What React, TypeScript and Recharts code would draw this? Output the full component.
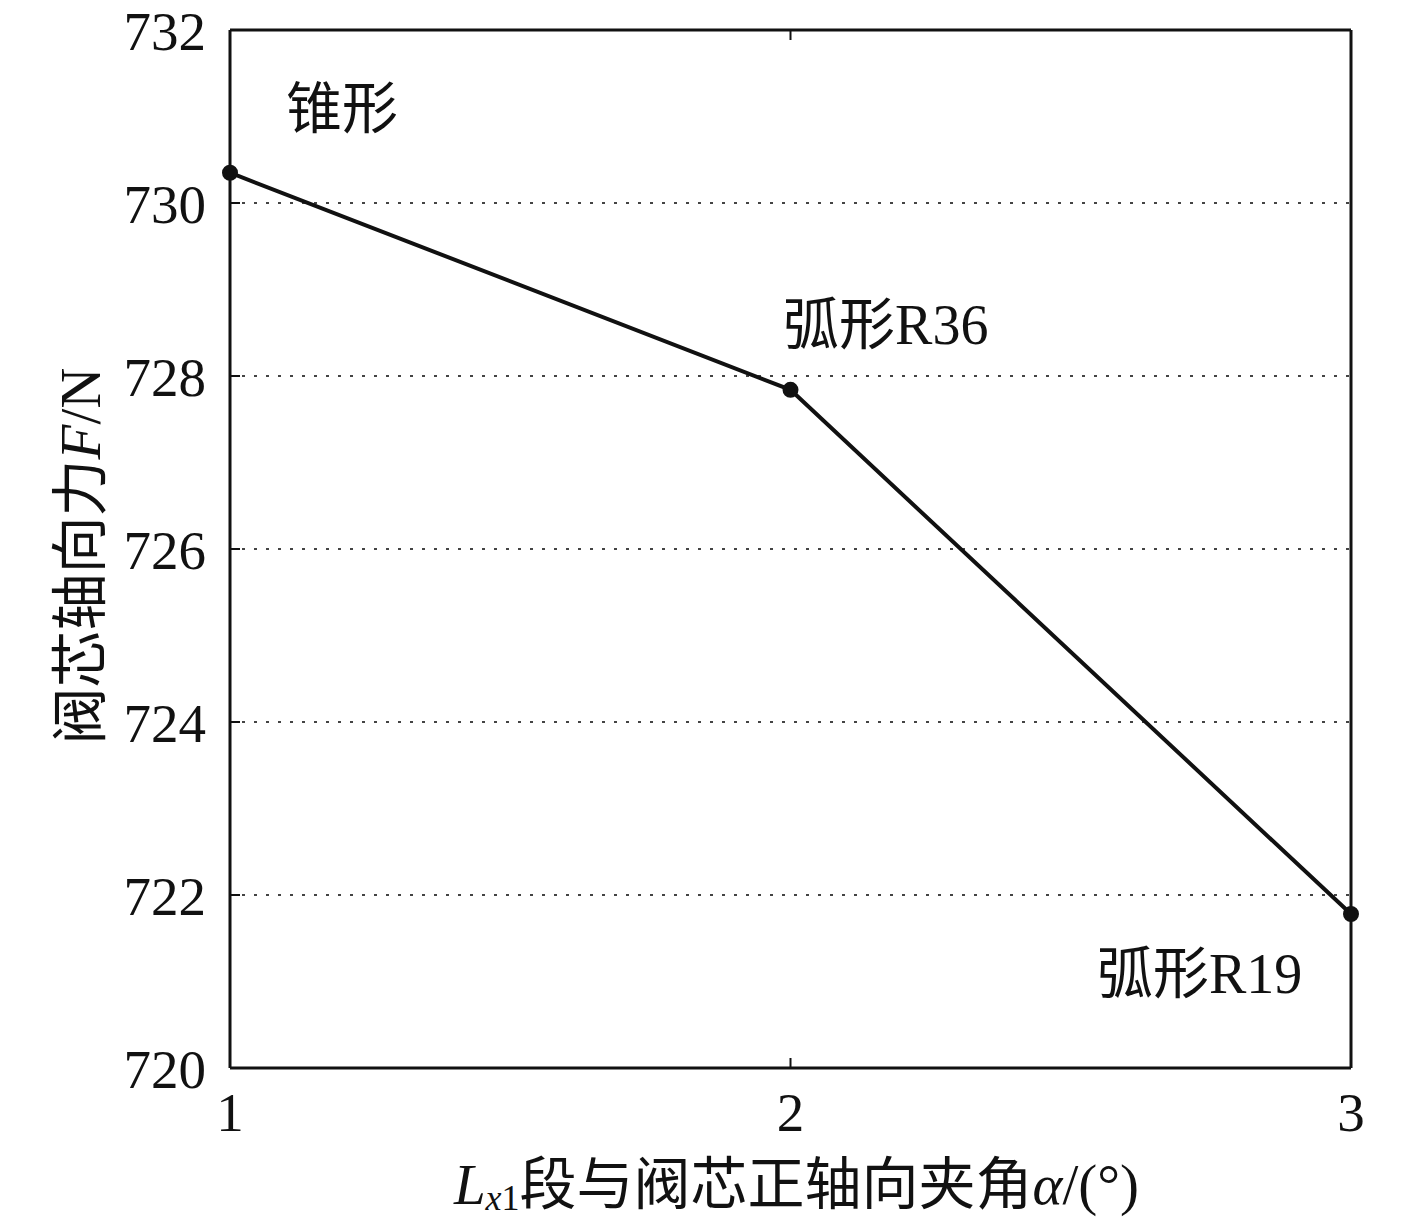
import React from "react";
import {
  CartesianGrid,
  Line,
  LineChart,
  ReferenceDot,
  XAxis,
  YAxis,
} from "recharts";

const angles = [1, 2, 3];
const forces = [730.35, 727.84, 721.78];
const xTicks = [1, 2, 3];
const yTicks = [720, 722, 724, 726, 728, 730, 732];
const noteX = [1.2, 2.17, 2.73];
const noteY = [731.1, 728.6, 721.1];
const noteText = ["锥形", "弧形R36", "弧形R19"];

const data = angles.map((a, i) => ({ angle: a, force: forces[i] }));

const FONT = "'Liberation Serif', 'Times New Roman', 'Noto Sans CJK SC', serif";
const INK = "#111";
const GAP = 24;
const TICK = 10;

function LeftTick({ x, y, payload }: any) {
  const ax = x + GAP;
  return (
    <g>
      <text x={x} y={y} dy="0.355em" textAnchor="end" fill={INK} fontSize={55} fontFamily={FONT}>
        {payload.value}
      </text>
      <line x1={ax} x2={ax + TICK} y1={y} y2={y} stroke={INK} strokeWidth={2} />
    </g>
  );
}

function BottomTick({ x, y, payload }: any) {
  const ay = y - GAP;
  return (
    <g>
      <text x={x} y={y} dy="0.71em" textAnchor="middle" fill={INK} fontSize={55} fontFamily={FONT}>
        {payload.value}
      </text>
      <line x1={x} x2={x} y1={ay} y2={ay - TICK} stroke={INK} strokeWidth={2} />
    </g>
  );
}

function RightTick({ x, y }: any) {
  return <line x1={x} x2={x - TICK} y1={y} y2={y} stroke={INK} strokeWidth={2} />;
}

function TopTick({ x, y }: any) {
  return <line x1={x} x2={x} y1={y} y2={y + TICK} stroke={INK} strokeWidth={2} />;
}

function XTitle({ viewBox }: any) {
  const cx = viewBox.x + viewBox.width / 2 + 6;
  const y = viewBox.y + 136;
  return (
    <text x={cx} y={y} textAnchor="middle" fontFamily={FONT} fontSize={57} fill={INK}>
      <tspan fontStyle="italic">L</tspan>
      <tspan fontStyle="italic" fontSize={36} dy={6}>x</tspan>
      <tspan fontSize={36}>1</tspan>
      <tspan dy={-6}>段与阀芯正轴向夹角</tspan>
      <tspan fontStyle="italic">α</tspan>
      <tspan>/(°)</tspan>
    </text>
  );
}

function YTitle({ viewBox }: any) {
  const cx = viewBox.x - 30;
  const cy = viewBox.y + viewBox.height / 2 + 7;
  return (
    <text
      x={cx}
      y={cy}
      transform={`rotate(-90, ${cx}, ${cy})`}
      textAnchor="middle"
      dominantBaseline="central"
      fontFamily={FONT}
      fontSize={57}
      fill={INK}
    >
      <tspan>阀芯轴向力</tspan>
      <tspan fontStyle="italic">F</tspan>
      <tspan>/N</tspan>
    </text>
  );
}

export default function App() {
  return (
    <div style={{ position: "absolute", left: 0, top: 0, background: "#fff" }}>
      <LineChart
        width={1418}
        height={1224}
        data={data}
        margin={{ top: 30, right: 67, bottom: 96, left: 110 }}
      >
        <CartesianGrid
          vertical={false}
          stroke="#444"
          strokeWidth={2}
          strokeDasharray="3 9"
        />
        <XAxis
          dataKey="angle"
          type="number"
          domain={[1, 3]}
          ticks={xTicks}
          height={60}
          axisLine={{ stroke: INK, strokeWidth: 3 }}
          tickLine={false}
          tickSize={0}
          tickMargin={GAP}
          tick={BottomTick}
          label={{ content: XTitle }}
        />
        <XAxis
          xAxisId="tm"
          orientation="top"
          dataKey="angle"
          type="number"
          domain={[1, 3]}
          ticks={xTicks}
          height={1}
          mirror
          axisLine={{ stroke: INK, strokeWidth: 3 }}
          tickLine={false}
          tickSize={0}
          tickMargin={0}
          tick={TopTick}
        />
        <YAxis
          type="number"
          domain={[720, 732]}
          ticks={yTicks}
          width={120}
          axisLine={{ stroke: INK, strokeWidth: 3 }}
          tickLine={false}
          tickSize={0}
          tickMargin={GAP}
          tick={LeftTick}
          label={{ content: YTitle }}
        />
        <YAxis
          yAxisId="rm"
          orientation="right"
          type="number"
          domain={[720, 732]}
          ticks={yTicks}
          width={1}
          mirror
          axisLine={{ stroke: INK, strokeWidth: 3 }}
          tickLine={false}
          tickSize={0}
          tickMargin={0}
          tick={RightTick}
        />
        <Line
          dataKey="force"
          stroke={INK}
          strokeWidth={4}
          dot={{ r: 6, fill: INK, stroke: INK }}
          isAnimationActive={false}
        />
        {noteText.map((t, i) => (
          <ReferenceDot
            key={t}
            x={noteX[i]}
            y={noteY[i]}
            r={0}
            fill="none"
            stroke="none"
            label={{
              value: t,
              position: "center",
              fill: INK,
              fontSize: 56,
              fontFamily: FONT,
            }}
          />
        ))}
      </LineChart>
    </div>
  );
}
